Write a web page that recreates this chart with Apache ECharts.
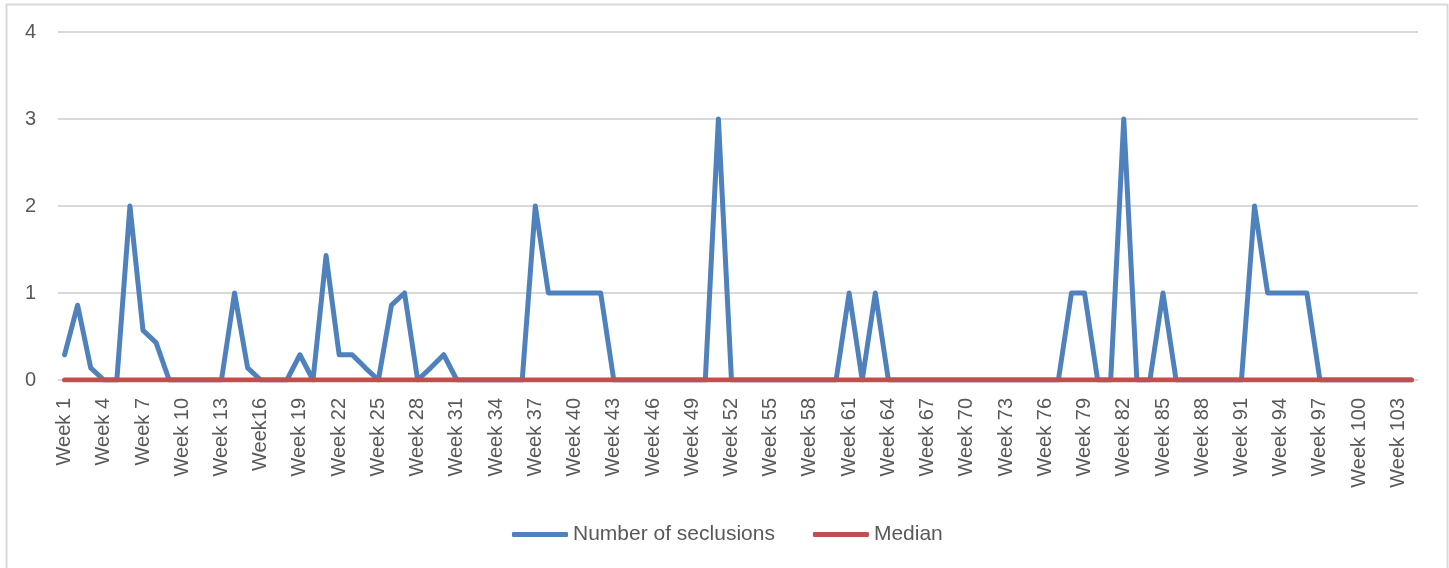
<!DOCTYPE html>
<html>
<head>
<meta charset="utf-8">
<script src="https://cdn.jsdelivr.net/npm/echarts@6/dist/echarts.min.js"></script>
<style>
html,body{margin:0;padding:0;background:#fff;}
#chart{width:1449px;height:568px;}
</style>
</head>
<body>
<div id="chart"></div>
<script>
var weeks = ["Week 1","Week 2","Week 3","Week 4","Week 5","Week 6","Week 7","Week 8","Week 9","Week 10",
"Week 11","Week 12","Week 13","Week 14","Week 15","Week16","Week 17","Week 18","Week 19","Week 20",
"Week 21","Week 22","Week 23","Week 24","Week 25","Week 26","Week 27","Week 28","Week 29","Week 30",
"Week 31","Week 32","Week 33","Week 34","Week 35","Week 36","Week 37","Week 38","Week 39","Week 40",
"Week 41","Week 42","Week 43","Week 44","Week 45","Week 46","Week 47","Week 48","Week 49","Week 50",
"Week 51","Week 52","Week 53","Week 54","Week 55","Week 56","Week 57","Week 58","Week 59","Week 60",
"Week 61","Week 62","Week 63","Week 64","Week 65","Week 66","Week 67","Week 68","Week 69","Week 70",
"Week 71","Week 72","Week 73","Week 74","Week 75","Week 76","Week 77","Week 78","Week 79","Week 80",
"Week 81","Week 82","Week 83","Week 84","Week 85","Week 86","Week 87","Week 88","Week 89","Week 90",
"Week 91","Week 92","Week 93","Week 94","Week 95","Week 96","Week 97","Week 98","Week 99","Week 100",
"Week 101","Week 102","Week 103","Week 104"];

var seclusions = [0.29,0.86,0.14,0,0,2,0.57,0.43,0,0,
0,0,0,1,0.14,0,0,0,0.29,0,
1.43,0.29,0.29,0.14,0,0.86,1,0,0.14,0.29,
0,0,0,0,0,0,2,1,1,1,
1,1,0,0,0,0,0,0,0,0,
3,0,0,0,0,0,0,0,0,0,
1,0,1,0,0,0,0,0,0,0,
0,0,0,0,0,0,0,1,1,0,
0,3,0,0,1,0,0,0,0,0,
0,2,1,1,1,1,0,0,0,0,
0,0,0,0];

var median = [0,0,0,0,0,0,0,0,0,0,
0,0,0,0,0,0,0,0,0,0,
0,0,0,0,0,0,0,0,0,0,
0,0,0,0,0,0,0,0,0,0,
0,0,0,0,0,0,0,0,0,0,
0,0,0,0,0,0,0,0,0,0,
0,0,0,0,0,0,0,0,0,0,
0,0,0,0,0,0,0,0,0,0,
0,0,0,0,0,0,0,0,0,0,
0,0,0,0,0,0,0,0,0,0,
0,0,0,0];

var yTicks = [0,1,2,3,4];

var chart = echarts.init(document.getElementById('chart'), null, {renderer:'canvas'});
var font = 'Liberation Sans';
chart.setOption({
  animation:false,
  backgroundColor:'#ffffff',
  graphic:[{
    type:'rect', left:4, top:2, silent:true,
    shape:{width:1441,height:620},
    style:{fill:'none',stroke:'#d9d9d9',lineWidth:2}
  }],
  grid:{left:58,right:31,top:32,bottom:188,containLabel:false},
  legend:{
    left:507, top:519,
    itemWidth:56, itemHeight:5, itemGap:38,
    icon:'roundRect',
    textStyle:{fontFamily:font,fontSize:21,color:'#595959'},
    data:['Number of seclusions','Median']
  },
  xAxis:{
    type:'category', data:weeks, boundaryGap:true,
    axisLine:{show:true,lineStyle:{color:'#d9d9d9',width:1}},
    axisTick:{show:false},
    axisLabel:{interval:2,rotate:90,margin:18,fontFamily:font,fontSize:20,color:'#595959'}
  },
  yAxis:{
    type:'value', min:yTicks[0], max:yTicks[yTicks.length-1], interval:1,
    axisLine:{show:false}, axisTick:{show:false},
    splitLine:{lineStyle:{color:'#d9d9d9',width:2}},
    axisLabel:{margin:22,fontFamily:font,fontSize:20,color:'#595959'}
  },
  series:[
    {name:'Number of seclusions',type:'line',data:seclusions,showSymbol:false,symbol:'none',
     itemStyle:{color:'#4f81bd'},
     lineStyle:{color:'#4f81bd',width:5,join:'round',cap:'round'},z:2},
    {name:'Median',type:'line',data:median,showSymbol:false,symbol:'none',
     itemStyle:{color:'#c0504d'},
     lineStyle:{color:'#c0504d',width:5,join:'round',cap:'round'},z:3}
  ]
});
</script>
</body>
</html>
